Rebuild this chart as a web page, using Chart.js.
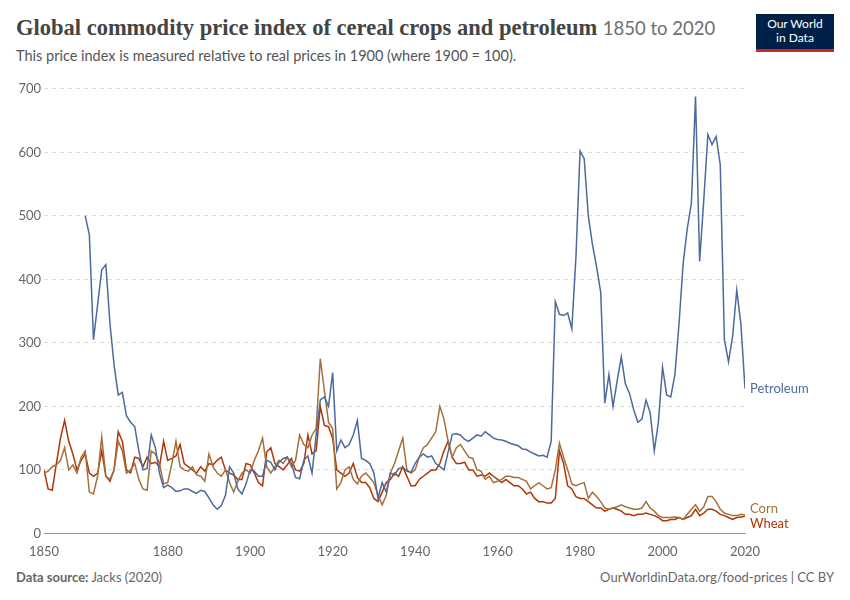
<!DOCTYPE html>
<html><head><meta charset="utf-8">
<script src="https://cdn.jsdelivr.net/npm/chart.js@4"></script>
<style>
body{margin:0;background:#fff;font-family:Lato,"DejaVu Sans",sans-serif;width:850px;height:600px;position:relative;overflow:hidden}
#t{position:absolute;left:16px;top:15px;font-family:"Liberation Serif",serif;font-size:22.5px;color:#444;font-weight:bold}
#t span{font-family:Lato,sans-serif;font-weight:normal;color:#6e6e6e;font-size:18.5px}
#s{position:absolute;left:16px;top:47px;font-size:14.5px;color:#555}
#logo{position:absolute;right:16px;top:14px;width:78px;height:38px;background:#002147;color:#fff;font-size:12px;text-align:center;line-height:14px;padding-top:3px;box-sizing:border-box;border-bottom:3px solid #ce261e}
#f1{position:absolute;left:16px;top:569px;font-size:13px;color:#666}
#f2{position:absolute;right:16px;top:569px;font-size:13px;color:#666}
#c{position:absolute;left:0;top:78px}
</style></head><body>
<div id="t">Global commodity price index of cereal crops and petroleum <span>1850 to 2020</span></div>
<div id="s">This price index is measured relative to real prices in 1900 (where 1900 = 100).</div>
<div id="logo">Our World<br>in Data</div>
<div id="f1"><b>Data source:</b> Jacks (2020)</div>
<div id="f2">OurWorldinData.org/food-prices | CC BY</div>
<canvas id="c" width="850" height="485"></canvas>
<script>
const startCereal=1850, startPetroleum=1860;
const wheat=[100,70,68,110,150,178,145,125,100,115,125,95,90,95,130,90,82,100,160,145,100,95,120,118,105,120,110,112,105,145,115,118,122,140,110,105,100,95,105,98,110,108,115,120,100,95,92,85,85,110,108,95,80,75,128,135,110,105,100,108,118,100,98,110,155,125,130,200,170,168,150,100,95,90,95,110,88,80,80,72,55,50,65,80,85,95,90,105,90,75,75,85,90,95,100,100,110,130,145,120,110,110,112,100,100,90,92,90,95,90,85,80,85,80,75,75,70,62,65,55,50,50,48,48,55,130,110,75,70,58,55,55,50,45,40,40,35,38,40,38,35,30,30,28,30,30,32,30,28,25,20,20,22,22,25,22,25,28,38,28,32,38,38,35,30,28,25,22,25,26,27];
const corn=[95,98,105,108,115,135,100,108,95,120,130,65,62,90,152,90,85,100,145,130,95,100,110,85,70,68,130,125,110,78,80,110,145,105,100,98,105,92,90,82,125,105,95,90,100,80,65,82,95,100,95,115,130,150,105,95,105,115,110,120,105,115,155,140,135,155,165,275,225,175,165,70,80,100,105,85,78,90,95,88,80,60,45,60,95,110,130,150,100,95,100,120,135,140,150,160,200,180,145,120,135,140,130,120,118,100,98,85,90,80,82,85,90,90,88,88,85,82,70,75,80,75,70,72,100,142,120,100,78,75,78,80,55,65,58,50,40,38,40,42,45,42,40,38,38,40,50,40,35,28,25,25,25,26,25,22,30,38,45,35,42,58,58,50,38,32,30,28,28,30,29];
const petroleum=[500,470,305,360,415,423,330,265,218,222,185,175,168,130,100,102,155,135,95,72,76,72,66,67,70,70,66,63,68,66,56,45,38,44,60,105,95,70,62,78,100,98,90,90,115,112,100,112,118,120,110,88,86,115,122,95,155,210,215,200,253,130,147,135,140,155,178,118,115,110,95,55,80,65,95,92,102,104,98,96,110,120,125,120,122,110,105,100,128,156,157,155,148,145,150,155,153,160,155,150,148,147,145,142,140,138,133,132,128,125,122,123,120,145,365,345,343,347,322,435,602,590,500,455,420,380,205,250,200,240,278,235,220,195,175,180,210,190,130,175,262,218,215,250,330,425,480,520,688,428,525,628,612,625,580,305,270,310,383,330,228];
const xTicks=[1850,1880,1900,1920,1940,1960,1980,2000,2020];
const toPts=(a,s)=>a.map((v,i)=>({x:s+i,y:v}));
const series=[
 {label:'Petroleum',data:toPts(petroleum,startPetroleum),borderColor:'#4c6a9c'},
 {label:'Corn',data:toPts(corn,startCereal),borderColor:'#a2703d'},
 {label:'Wheat',data:toPts(wheat,startCereal),borderColor:'#b13507'}];
const endLabels={id:'endLabels',afterDatasetsDraw(ch){const c=ch.ctx;c.save();c.font='13px Lato';c.textBaseline='middle';
 const offs={Petroleum:0,Corn:-6,Wheat:8};
 ch.data.datasets.forEach((d,i)=>{const m=ch.getDatasetMeta(i).data;const p=m[m.length-1];c.fillStyle=d.borderColor;c.fillText(d.label,p.x+5,p.y+offs[d.label]);});c.restore();}};
new Chart(document.getElementById('c'),{type:'line',
 data:{datasets:series.map(s=>({...s,borderWidth:1.5,pointRadius:0,tension:0,fill:false}))},
 options:{responsive:false,animation:false,layout:{padding:{left:6,right:105,top:8,bottom:0}},
  plugins:{legend:{display:false},tooltip:{enabled:false}},
  scales:{
   x:{type:'linear',min:1850,max:2020,afterBuildTicks:a=>{a.ticks=xTicks.map(v=>({value:v}))},
      grid:{display:false},border:{color:'#999'},
      ticks:{color:'#666',font:{size:13,family:'Lato'},autoSkip:false,maxRotation:0,callback:v=>v}},
   y:{min:0,max:700,ticks:{stepSize:100,color:'#666',font:{size:13,family:'Lato'}},
      grid:{color:'#ddd',drawTicks:false},border:{display:false,dash:[4,4]},
      afterFit:a=>{a.width=38}}
  }},plugins:[endLabels]});
</script></body></html>
